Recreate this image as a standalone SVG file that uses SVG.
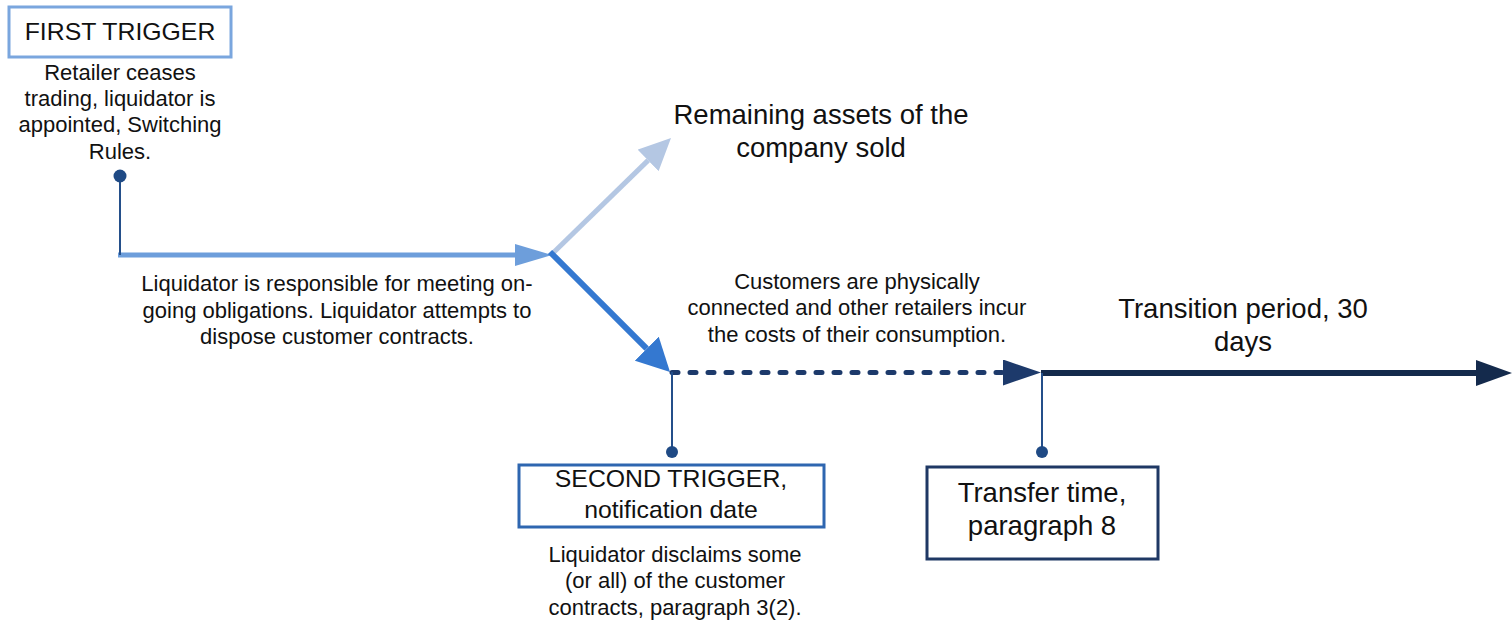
<svg xmlns="http://www.w3.org/2000/svg" width="1512" height="621" viewBox="0 0 1512 621">
<style>
text{font-family:"Liberation Sans",Arial,sans-serif;fill:#111;text-anchor:middle}
.t22{font-size:22px}
.t24{font-size:24.8px}
.t27{font-size:27.5px}
.box{fill:#fff;stroke-width:3}
.stem{stroke:#244f8a;stroke-width:2;fill:none}
.dot{fill:#1f4a85}
</style>
<defs>
<marker id="aLight" markerUnits="userSpaceOnUse" viewBox="0 0 37 22" markerWidth="37" markerHeight="22" refX="0" refY="11" orient="auto"><path d="M0,0 L37,11 L0,22 z" fill="#6d9edb"/></marker>
<marker id="aPale" markerUnits="userSpaceOnUse" viewBox="0 0 32 30" markerWidth="32" markerHeight="30" refX="0" refY="15" orient="auto"><path d="M0,0 L32,15 L0,30 z" fill="#b4c7e3"/></marker>
<marker id="aBlue" markerUnits="userSpaceOnUse" viewBox="0 0 33 34" markerWidth="33" markerHeight="34" refX="0" refY="17" orient="auto"><path d="M0,0 L33,17 L0,34 z" fill="#3478d0"/></marker>
<marker id="aDash" markerUnits="userSpaceOnUse" viewBox="0 0 38 26" markerWidth="38" markerHeight="26" refX="0" refY="13" orient="auto"><path d="M0,0 L38,13 L0,26 z" fill="#1d3a6b"/></marker>
<marker id="aDark" markerUnits="userSpaceOnUse" viewBox="0 0 36 26" markerWidth="36" markerHeight="26" refX="0" refY="13" orient="auto"><path d="M0,0 L36,13 L0,26 z" fill="#142a4c"/></marker>
</defs>
<rect width="1512" height="621" fill="#fff"/>
<g id="connectors">
<line x1="118" y1="255" x2="515" y2="255" stroke="#6d9edb" stroke-width="5" marker-end="url(#aLight)"/>
<line x1="552" y1="254" x2="648.1" y2="160.4" stroke="#b4c7e3" stroke-width="5" marker-end="url(#aPale)"/>
<line x1="550" y1="252" x2="646.7" y2="348.7" stroke="#3478d0" stroke-width="6" marker-end="url(#aBlue)"/>
<line x1="672" y1="372.5" x2="1003" y2="372.5" stroke="#1d3a6b" stroke-width="5" stroke-dasharray="6 12" stroke-linecap="round" marker-end="url(#aDash)"/>
<line x1="1041" y1="373" x2="1476" y2="373" stroke="#142a4c" stroke-width="6" marker-end="url(#aDark)"/>
<line class="stem" x1="120" y1="176" x2="120" y2="255"/>
<line class="stem" x1="672" y1="372" x2="672" y2="452"/>
<line class="stem" x1="1042" y1="373" x2="1042" y2="452"/>
</g>
<g id="first-trigger">
<rect class="box" x="9" y="7" width="222" height="50" stroke="#7aa6de"/>
<text class="t24" x="120" y="40">FIRST TRIGGER</text>
<text class="t22" x="120" y="80">Retailer ceases</text>
<text class="t22" x="120" y="106">trading, liquidator is</text>
<text class="t22" x="120" y="132">appointed, Switching</text>
<text class="t22" x="120" y="159">Rules.</text>
<circle class="dot" cx="120" cy="176" r="6.5"/>
</g>
<g id="liquidator-responsible">
<text class="t22" x="337" y="291">Liquidator is responsible for meeting on-</text>
<text class="t22" x="337" y="317.5">going obligations. Liquidator attempts to</text>
<text class="t22" x="337" y="344">dispose customer contracts.</text>
</g>
<g id="remaining-assets">
<text class="t27" x="821" y="124">Remaining assets of the</text>
<text class="t27" x="821" y="157">company sold</text>
</g>
<g id="customers-connected">
<text class="t22" x="857" y="289">Customers are physically</text>
<text class="t22" x="857" y="315">connected and other retailers incur</text>
<text class="t22" x="857" y="342">the costs of their consumption.</text>
</g>
<g id="transition-period">
<text class="t27" x="1243" y="318">Transition period, 30</text>
<text class="t27" x="1243" y="351">days</text>
</g>
<g id="second-trigger">
<circle class="dot" cx="672" cy="452" r="6"/>
<rect class="box" x="519" y="465" width="305" height="62" stroke="#2e66b0"/>
<text class="t24" x="671" y="487">SECOND TRIGGER,</text>
<text class="t24" x="671" y="518">notification date</text>
<text class="t22" x="675" y="562">Liquidator disclaims some</text>
<text class="t22" x="675" y="588">(or all) of the customer</text>
<text class="t22" x="675" y="615">contracts, paragraph 3(2).</text>
</g>
<g id="transfer-time">
<circle class="dot" cx="1042" cy="452" r="6"/>
<rect class="box" x="927" y="467" width="231" height="92" stroke="#1f3864"/>
<text class="t27" x="1042" y="502">Transfer time,</text>
<text class="t27" x="1042" y="535">paragraph 8</text>
</g>
</svg>
